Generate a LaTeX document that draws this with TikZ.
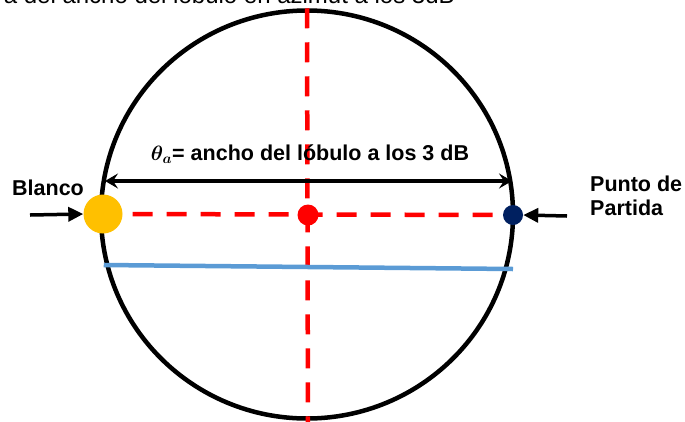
\documentclass[tikz,border=0pt]{standalone}
\usepackage{amsmath}
\usepackage{bm}
\usepackage{fontspec}
\setmainfont{Liberation Sans}
\usepackage{tikz}
\usetikzlibrary{arrows.meta, positioning, shapes.geometric}
\definecolor{amber}{RGB}{255,192,0}
\definecolor{navyblue}{RGB}{0,32,96}
\definecolor{lineblue}{RGB}{91,155,213}

\begin{document}
\begin{tikzpicture}[
    x=1pt, y=-1pt,
    dot/.style={circle, inner sep=0pt},
    redaxis/.style={draw=red, line width=4.5pt, dash pattern=on 20pt off 14pt},
    txt/.style={font=\fontsize{21.5}{24}\selectfont\bfseries, align=left, inner sep=0pt},
    pointer/.style={-{Triangle[length=15pt, width=14pt]}, line width=3.5pt},
]
    \useasboundingbox (0,0) rectangle (685,421);
    \clip (0,0) rectangle (685,421);
    \node[anchor=base east, inner sep=0pt, font=\fontsize{24}{26}\selectfont] (caption) at (455,3) {a del ancho del lóbulo en azimut a los 3dB};
    \node[ellipse, draw, line width=4.5pt, minimum width=412pt, minimum height=408pt, inner sep=0pt] (lobe) at (307,214.5) {};
    \draw[redaxis] (lobe.north) -- (308,440);
    \node[dot, fill=red, minimum size=21pt] (centro) at (308,215) {};
    \node[dot, fill=navyblue, minimum size=20pt] (partida) at (513,215) {};
    \node[dot, fill=amber, minimum size=39pt] (blanco) at (103,214) {};
    \draw[redaxis, dash phase=-10pt] (blanco.east) -- (partida.west);
    \draw[lineblue, line width=4.5pt] (lobe.west |- 0,265) ++(5,0) coordinate (cutL) -- (513,269) coordinate (cutR);
    % ancho del lobulo
    \coordinate (anchoL) at (105,181);
    \coordinate (anchoR) at (512,181);
    \draw[{Stealth[length=13pt, width=15pt, inset=5pt]}-{Stealth[length=13pt, width=15pt, inset=5pt]}, line width=3.5pt] (anchoL) -- (anchoR);
    \node[txt] (theta) at (310,154) {$\bm{\theta_a}$= ancho del lóbulo a los 3 dB};
    % flechas
    \coordinate (blancoTail) at (30,215);
    \draw[pointer] (blancoTail) -- (blanco.west);
    \node[txt, anchor=base west] (blancoText) at (12,195) {Blanco};
    \coordinate (partidaTail) at (567,216);
    \draw[pointer] (partidaTail) -- (partida.east);
    \node[txt, anchor=base west] (partidaText) at (590,215) {Punto de\\Partida};
\end{tikzpicture}
\end{document}
